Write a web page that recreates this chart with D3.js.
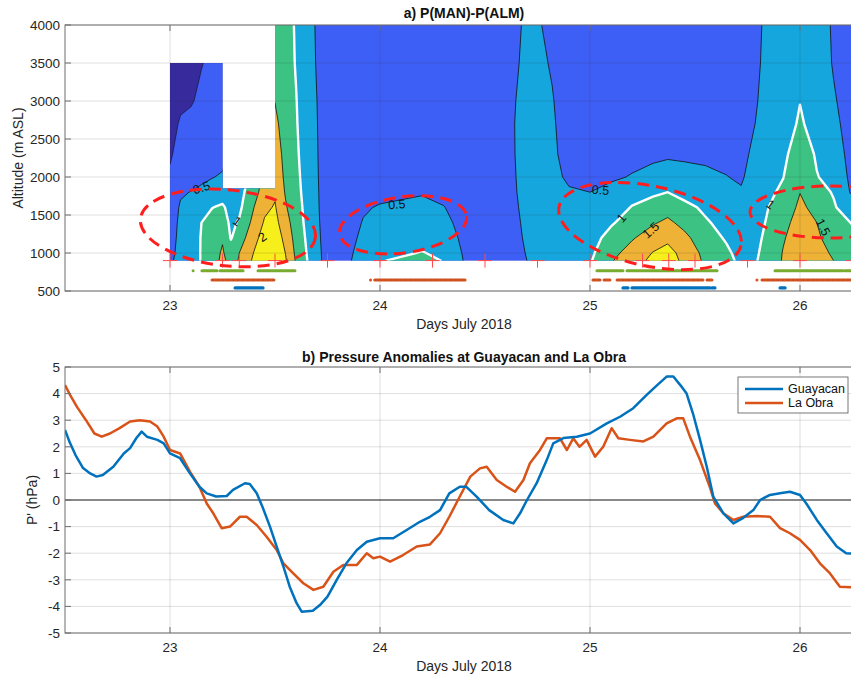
<!DOCTYPE html>
<html>
<head>
<meta charset="utf-8">
<script src="https://cdn.jsdelivr.net/npm/d3@7"></script>
<style>
body { margin: 0; background: #fff; }
svg { display: block; font-family: "Liberation Sans", Arial, Helvetica, sans-serif; }
</style>
</head>
<body>
<svg id="fig" width="851" height="675"></svg>
<script>
// ---------- panel a: pressure difference field ----------
var colTimes = [23.00, 23.05, 23.10, 23.15, 23.20, 23.25, 23.29, 23.33, 23.40, 23.45,
  23.50, 23.55, 23.60, 23.65, 23.70, 23.75, 23.85, 23.92, 24.00, 24.10,
  24.20, 24.30, 24.40, 24.50, 24.62, 24.70, 24.76, 24.82, 24.90, 25.00,
  25.10, 25.20, 25.30, 25.37, 25.45, 25.55, 25.65, 25.72, 25.78, 25.85,
  25.92, 26.00, 26.08, 26.16, 26.24, 26.32];
var altRows = [900, 1000, 1200, 1400, 1600, 1800, 2000, 2300, 2700, 3000, 3500, 4000];

// one profile per time column, values at altRows (hPa)
var fieldCols = [
  [0.45, 0.42, 0.38, 0.34, 0.30, 0.22, 0.06, -0.05, -0.10, -0.15, -0.20, -0.20],
  [0.60, 0.59, 0.58, 0.57, 0.54, 0.46, 0.30, 0.15, 0.03, -0.05, -0.10, -0.10],
  [0.85, 0.85, 0.83, 0.80, 0.70, 0.51, 0.35, 0.20, 0.06, -0.02, -0.08, -0.10],
  [1.02, 1.02, 1.02, 1.00, 0.85, 0.55, 0.45, 0.25, 0.10, 0.05, -0.01, -0.05],
  [1.30, 1.28, 1.20, 1.12, 0.99, 0.70, 0.48, 0.30, 0.18, 0.12, 0.05, 0.02],
  [1.60, 1.56, 1.45, 1.25, 1.06, 0.80, 0.55, 0.35, 0.25, 0.20, 0.15, 0.15],
  [1.35, 1.22, 0.97, 0.90, 0.86, 0.84, 0.70, 0.60, 0.60, 0.60, 0.60, 0.60],
  [1.53, 1.50, 1.25, 1.05, 0.90, 0.84, 0.80, 0.80, 0.80, 0.80, 0.80, 0.80],
  [2.10, 2.02, 1.85, 1.65, 1.50, 1.30, 1.15, 1.20, 1.30, 1.40, 1.50, 1.50],
  [2.40, 2.35, 2.20, 2.05, 1.90, 1.75, 1.65, 1.60, 1.60, 1.60, 1.60, 1.60],
  [2.50, 2.45, 2.30, 2.15, 2.04, 1.93, 1.85, 1.75, 1.60, 1.49, 1.35, 1.30],
  [2.05, 1.99, 1.85, 1.70, 1.55, 1.46, 1.40, 1.35, 1.30, 1.27, 1.22, 1.20],
  [1.45, 1.40, 1.32, 1.25, 1.20, 1.15, 1.12, 1.08, 1.04, 1.02, 0.97, 0.95],
  [1.03, 1.00, 0.95, 0.90, 0.87, 0.84, 0.81, 0.78, 0.75, 0.73, 0.70, 0.70],
  [0.66, 0.64, 0.60, 0.57, 0.55, 0.54, 0.53, 0.52, 0.51, 0.50, 0.47, 0.45],
  [0.30, 0.30, 0.30, 0.30, 0.30, 0.30, 0.30, 0.30, 0.30, 0.30, 0.30, 0.30],
  [0.47, 0.45, 0.40, 0.35, 0.30, 0.25, 0.20, 0.20, 0.20, 0.20, 0.20, 0.20],
  [0.62, 0.61, 0.57, 0.52, 0.46, 0.35, 0.25, 0.20, 0.20, 0.20, 0.20, 0.20],
  [0.98, 0.85, 0.72, 0.62, 0.53, 0.40, 0.30, 0.20, 0.20, 0.20, 0.20, 0.20],
  [1.05, 0.95, 0.80, 0.65, 0.56, 0.44, 0.30, 0.20, 0.20, 0.20, 0.20, 0.20],
  [1.08, 1.02, 0.85, 0.70, 0.60, 0.47, 0.30, 0.20, 0.20, 0.20, 0.20, 0.20],
  [0.99, 0.92, 0.75, 0.62, 0.52, 0.38, 0.28, 0.20, 0.20, 0.20, 0.20, 0.20],
  [0.48, 0.45, 0.40, 0.36, 0.33, 0.30, 0.30, 0.30, 0.30, 0.30, 0.30, 0.30],
  [0.30, 0.30, 0.30, 0.30, 0.30, 0.30, 0.30, 0.30, 0.30, 0.30, 0.30, 0.30],
  [0.42, 0.42, 0.42, 0.42, 0.42, 0.42, 0.42, 0.42, 0.42, 0.42, 0.42, 0.42],
  [0.50, 0.51, 0.53, 0.55, 0.58, 0.62, 0.65, 0.70, 0.72, 0.66, 0.57, 0.54],
  [0.70, 0.70, 0.70, 0.70, 0.68, 0.65, 0.63, 0.62, 0.62, 0.60, 0.56, 0.52],
  [0.72, 0.72, 0.71, 0.70, 0.67, 0.62, 0.58, 0.56, 0.54, 0.52, 0.47, 0.40],
  [0.75, 0.75, 0.74, 0.72, 0.65, 0.53, 0.45, 0.38, 0.35, 0.33, 0.30, 0.30],
  [0.95, 0.90, 0.82, 0.72, 0.62, 0.50, 0.42, 0.35, 0.30, 0.30, 0.30, 0.30],
  [1.45, 1.35, 1.15, 0.95, 0.80, 0.60, 0.45, 0.35, 0.30, 0.30, 0.30, 0.30],
  [1.85, 1.70, 1.45, 1.20, 1.02, 0.85, 0.52, 0.40, 0.32, 0.30, 0.30, 0.30],
  [2.08, 2.02, 1.75, 1.45, 1.20, 0.92, 0.62, 0.42, 0.34, 0.30, 0.30, 0.30],
  [2.20, 2.15, 1.90, 1.60, 1.30, 1.00, 0.70, 0.44, 0.36, 0.32, 0.30, 0.30],
  [1.90, 1.85, 1.62, 1.35, 1.12, 0.85, 0.66, 0.42, 0.35, 0.30, 0.30, 0.30],
  [1.40, 1.35, 1.20, 1.05, 0.92, 0.75, 0.58, 0.42, 0.33, 0.30, 0.30, 0.30],
  [1.15, 1.08, 0.95, 0.85, 0.75, 0.65, 0.51, 0.40, 0.32, 0.30, 0.30, 0.30],
  [0.88, 0.85, 0.80, 0.72, 0.62, 0.54, 0.45, 0.38, 0.33, 0.30, 0.30, 0.30],
  [0.95, 0.93, 0.88, 0.83, 0.78, 0.72, 0.66, 0.58, 0.48, 0.44, 0.40, 0.38],
  [1.15, 1.13, 1.10, 1.05, 1.00, 0.92, 0.85, 0.78, 0.70, 0.66, 0.62, 0.60],
  [1.55, 1.53, 1.45, 1.35, 1.20, 1.08, 0.99, 0.90, 0.82, 0.78, 0.72, 0.70],
  [1.90, 1.88, 1.80, 1.70, 1.60, 1.49, 1.38, 1.25, 1.05, 0.99, 0.88, 0.82],
  [1.65, 1.63, 1.57, 1.50, 1.35, 1.20, 1.02, 0.95, 0.85, 0.78, 0.72, 0.70],
  [1.50, 1.45, 1.30, 1.18, 1.06, 0.96, 0.85, 0.72, 0.60, 0.54, 0.47, 0.45],
  [1.30, 1.25, 1.12, 1.00, 0.70, 0.48, 0.42, 0.38, 0.35, 0.33, 0.30, 0.30],
  [1.10, 1.05, 0.95, 0.85, 0.62, 0.42, 0.35, 0.30, 0.30, 0.30, 0.30, 0.30]
];

var levels = [0, 0.5, 1, 1.5, 2];
var levelColors = ['#3e5ff6', '#16a6de', '#3cc383', '#eeb236', '#f6ef1c'];
var belowColor = '#372a9c';
var lineColors = ['#15153a', '#111', '#fff', '#111', '#111'];
var lineWidths = [0.7, 0.8, 2.4, 0.8, 0.8];

// where the profiler has data
var coverStart = [23.0, 23.25, 23.5];
var coverEnd = [23.25, 23.5, 26.4];
var coverTop = [3500, 1850, 4000];
var coverBottom = 900;

var contourLabels = [
  {t: 23.15, alt: 1860, text: '0.5', rot: -18},
  {t: 23.32, alt: 1420, text: '1', rot: 35},
  {t: 23.44, alt: 1210, text: '2', rot: -35},
  {t: 24.08, alt: 1640, text: '0.5', rot: -4},
  {t: 25.05, alt: 1830, text: '0.5', rot: 3},
  {t: 25.15, alt: 1460, text: '1', rot: -50},
  {t: 25.29, alt: 1300, text: '1.5', rot: -42},
  {t: 25.86, alt: 1640, text: '1', rot: 35},
  {t: 26.11, alt: 1340, text: '1.5', rot: 62}
];

// red dashed ellipses: centre, semi-axes (days, m), rotation (deg)
var ellT = [23.276, 24.11, 25.286, 26.143];
var ellAlt = [1330, 1370, 1355, 1540];
var ellA = [0.419, 0.305, 0.443, 0.381];
var ellB = [500, 368, 526, 342];
var ellRot = [6, -8, 12, 0];

// surface stations markers
var plusTimes = [23.0, 23.25, 23.33, 23.5, 23.75, 24.0, 24.25, 24.5, 24.75,
  25.0, 25.25, 25.375, 25.5, 25.75, 26.0, 26.25];
var plusAlt = 900;

// periods (start, end) in days
var greenStart = [23.11, 23.152, 23.238, 23.419, 25.033, 25.176, 25.881, 26.214];
var greenEnd =   [23.11, 23.224, 23.348, 23.595, 25.157, 25.605, 26.205, 26.35];
var orangeStart = [23.2, 23.955, 23.975, 25.014, 25.067, 25.129, 25.557, 25.795, 25.819];
var orangeEnd =   [23.495, 23.955, 24.405, 25.048, 25.095, 25.538, 25.581, 25.795, 26.35];
var blueStart = [23.31, 25.157, 25.2, 25.581, 25.905];
var blueEnd =   [23.443, 25.181, 25.571, 25.595, 25.929];
var stripAlts = [765, 645, 540];

// ---------- panel b: pressure anomalies ----------
var guayT = [22.5, 22.524, 22.55, 22.586, 22.62, 22.65, 22.68, 22.73, 22.78, 22.81,
  22.84, 22.865, 22.89, 22.94, 22.97, 23.0, 23.048, 23.095, 23.14, 23.175,
  23.22, 23.27, 23.3, 23.357, 23.38, 23.413, 23.44, 23.476, 23.508, 23.54,
  23.57, 23.603, 23.627, 23.68, 23.714, 23.75, 23.794, 23.84, 23.89, 23.937,
  24.0, 24.063, 24.127, 24.19, 24.238, 24.286, 24.33, 24.38, 24.41, 24.46,
  24.52, 24.587, 24.635, 24.667, 24.7, 24.746, 24.794, 24.825, 24.873, 24.937,
  25.0, 25.08, 25.143, 25.206, 25.27, 25.32, 25.365, 25.397, 25.43, 25.46,
  25.49, 25.524, 25.556, 25.587, 25.635, 25.683, 25.73, 25.778, 25.81, 25.857,
  25.905, 25.952, 26.0, 26.03, 26.08, 26.127, 26.175, 26.22, 26.3];
var guayP = [2.63, 2.14, 1.69, 1.2, 1.0, 0.88, 0.94, 1.25, 1.75, 1.95,
  2.33, 2.57, 2.38, 2.26, 2.13, 1.75, 1.57, 1.0, 0.5, 0.25,
  0.13, 0.15, 0.38, 0.63, 0.6, 0.25, -0.25, -1.0, -1.75, -2.5,
  -3.26, -3.88, -4.2, -4.16, -3.95, -3.63, -3.0, -2.38, -1.88, -1.57,
  -1.44, -1.44, -1.13, -0.82, -0.63, -0.38, 0.25, 0.5, 0.5, 0.13,
  -0.38, -0.75, -0.88, -0.5, 0.0, 0.63, 1.5, 2.13, 2.33, 2.38,
  2.5, 2.88, 3.13, 3.45, 3.95, 4.32, 4.64, 4.64, 4.32, 4.0,
  3.26, 2.26, 1.25, 0.13, -0.5, -0.88, -0.67, -0.38, 0.0, 0.19,
  0.25, 0.31, 0.19, -0.13, -0.75, -1.25, -1.75, -2.0, -2.05];
var obraT = [22.5, 22.524, 22.557, 22.6, 22.64, 22.675, 22.714, 22.76, 22.81, 22.857,
  22.905, 22.94, 22.97, 23.0, 23.048, 23.095, 23.14, 23.175, 23.206, 23.246,
  23.286, 23.333, 23.365, 23.413, 23.46, 23.508, 23.54, 23.587, 23.635, 23.683,
  23.73, 23.778, 23.825, 23.89, 23.937, 23.968, 24.0, 24.048, 24.11, 24.175,
  24.238, 24.286, 24.33, 24.38, 24.43, 24.476, 24.508, 24.556, 24.603, 24.643,
  24.683, 24.714, 24.762, 24.794, 24.857, 24.89, 24.92, 24.95, 24.984, 25.024,
  25.063, 25.103, 25.135, 25.19, 25.254, 25.302, 25.365, 25.413, 25.444, 25.476,
  25.524, 25.57, 25.595, 25.635, 25.683, 25.73, 25.794, 25.857, 25.905, 25.952,
  26.0, 26.048, 26.095, 26.143, 26.19, 26.3];
var obraP = [4.32, 3.95, 3.5, 3.0, 2.5, 2.38, 2.5, 2.7, 2.95, 3.0,
  2.95, 2.76, 2.38, 1.88, 1.75, 1.07, 0.5, -0.13, -0.5, -1.06,
  -1.0, -0.63, -0.63, -0.94, -1.38, -1.88, -2.38, -2.76, -3.13, -3.38,
  -3.26, -2.7, -2.44, -2.44, -2.0, -2.19, -2.13, -2.32, -2.07, -1.75,
  -1.67, -1.25, -0.63, 0.13, 0.88, 1.19, 1.25, 0.75, 0.5, 0.31,
  0.75, 1.38, 1.88, 2.32, 2.32, 1.88, 2.32, 2.0, 2.26, 1.63,
  2.0, 2.7, 2.32, 2.26, 2.2, 2.38, 2.88, 3.07, 3.07, 2.38,
  1.5, 0.5, -0.13, -0.5, -0.75, -0.63, -0.6, -0.63, -1.06, -1.25,
  -1.5, -1.88, -2.38, -2.76, -3.26, -3.3];
var seriesNames = ['Guayacan', 'La Obra'];
var seriesColors = ['#0072bd', '#d95319'];

var xTicks = [23, 24, 25, 26];
var altTicks = [500, 1000, 1500, 2000, 2500, 3000, 3500, 4000];
var pTicks = [-5, -4, -3, -2, -1, 0, 1, 2, 3, 4, 5];

// ---------- layout ----------
var svg = d3.select('#fig');
var left = 65, right = 863;
var topA = 25, botA = 291, topB = 367, botB = 633;

var x = d3.scaleLinear().domain([22.5, 26.3]).range([left, right]);
var yAlt = d3.scaleLinear().domain([500, 4000]).range([botA, topA]);
var yP = d3.scaleLinear().domain([-5, 5]).range([botB, topB]);

var defs = svg.append('defs');
defs.append('clipPath').attr('id', 'plotA')
  .append('rect').attr('x', left).attr('y', topA).attr('width', right - left).attr('height', botA - topA);
defs.append('clipPath').attr('id', 'plotB')
  .append('rect').attr('x', left).attr('y', topB).attr('width', right - left).attr('height', botB - topB);
var cover = defs.append('clipPath').attr('id', 'cover');
coverStart.forEach(function(s, i) {
  cover.append('rect')
    .attr('x', x(s)).attr('y', yAlt(coverTop[i]))
    .attr('width', x(coverEnd[i]) - x(s))
    .attr('height', yAlt(coverBottom) - yAlt(coverTop[i]));
});

// padded grid for d3.contours (edge values repeated so lines do not run along the border)
var padT = [colTimes[0] - 0.1].concat(colTimes, [colTimes[colTimes.length - 1] + 0.1]);
var padA = [altRows[0] - 200].concat(altRows, [altRows[altRows.length - 1] + 200]);
var nx = padT.length, ny = padA.length;
var grid = new Array(nx * ny);
for (var j = 0; j < ny; j++) {
  for (var i = 0; i < nx; i++) {
    var ci = Math.min(Math.max(i - 1, 0), colTimes.length - 1);
    var rj = Math.min(Math.max(j - 1, 0), altRows.length - 1);
    grid[j * nx + i] = fieldCols[ci][rj];
  }
}

function along(arr, c) {
  var k = c - 0.5;
  if (k <= 0) return arr[0];
  if (k >= arr.length - 1) return arr[arr.length - 1];
  var i0 = Math.floor(k), f = k - i0;
  return arr[i0] + f * (arr[i0 + 1] - arr[i0]);
}

var proj = d3.geoTransform({
  point: function(px, py) {
    this.stream.point(x(along(padT, px)), yAlt(along(padA, py)));
  }
});
var gpath = d3.geoPath(proj);
var contours = d3.contours().size([nx, ny]).smooth(true);

// ---- panel a ----
var gA = svg.append('g');
var field = gA.append('g').attr('clip-path', 'url(#cover)');
field.append('rect')
  .attr('x', x(23)).attr('y', yAlt(4000))
  .attr('width', right - x(23)).attr('height', yAlt(900) - yAlt(4000))
  .attr('fill', belowColor);

levels.forEach(function(lv, k) {
  field.append('path')
    .attr('d', gpath(contours.contour(grid, lv)))
    .attr('fill', levelColors[k]);
});
levels.forEach(function(lv, k) {
  field.append('path')
    .attr('d', gpath(contours.contour(grid, lv)))
    .attr('fill', 'none')
    .attr('stroke', lineColors[k])
    .attr('stroke-width', lineWidths[k])
    .attr('stroke-linejoin', 'round');
});

// grid
function drawGrid(g, yScale, yt, y0, y1) {
  g.selectAll('line.gx').data(xTicks).enter().append('line')
    .attr('x1', function(d) { return x(d); }).attr('x2', function(d) { return x(d); })
    .attr('y1', y0).attr('y2', y1)
    .attr('stroke', '#262626').attr('stroke-opacity', 0.15).attr('stroke-width', 1);
  g.selectAll('line.gy').data(yt).enter().append('line')
    .attr('x1', left).attr('x2', right)
    .attr('y1', function(d) { return yScale(d); }).attr('y2', function(d) { return yScale(d); })
    .attr('stroke', '#262626').attr('stroke-opacity', 0.15).attr('stroke-width', 1);
}
drawGrid(gA.append('g'), yAlt, altTicks, topA, botA);

// contour labels
gA.selectAll('text.cl').data(contourLabels).enter().append('text')
  .attr('transform', function(d) { return 'translate(' + x(d.t) + ',' + yAlt(d.alt) + ') rotate(' + d.rot + ')'; })
  .attr('text-anchor', 'middle').attr('dy', '0.35em')
  .attr('font-size', 12.5).attr('fill', '#111')
  .text(function(d) { return d.text; });

// periods
var stripG = gA.append('g').attr('clip-path', 'url(#plotA)');
function strip(starts, ends, alt, color, w) {
  stripG.selectAll(null).data(starts).enter().append('line')
    .attr('x1', function(d) { return x(d); })
    .attr('x2', function(d, i) { return x(ends[i]); })
    .attr('y1', yAlt(alt)).attr('y2', yAlt(alt))
    .attr('stroke', color).attr('stroke-width', w).attr('stroke-linecap', 'round');
}
strip(greenStart, greenEnd, stripAlts[0], '#77ac30', 3);
strip(orangeStart, orangeEnd, stripAlts[1], '#d95319', 3);
strip(blueStart, blueEnd, stripAlts[2], '#0072bd', 3.2);
stripG.selectAll(null).data(orangeStart).enter().append('line')
  .attr('x1', function(d) { return x(d); })
  .attr('x2', function(d, i) { return x(orangeEnd[i]); })
  .attr('y1', yAlt(stripAlts[1])).attr('y2', yAlt(stripAlts[1]))
  .attr('stroke', '#7d4d70').attr('stroke-width', 1).attr('stroke-dasharray', '2,3')
  .attr('stroke-opacity', 0.6);

// plus markers
plusTimes.forEach(function(t) {
  var cx = x(t), cy = yAlt(plusAlt);
  stripG.append('line').attr('x1', cx - 7).attr('x2', cx + 7).attr('y1', cy).attr('y2', cy)
    .attr('stroke', '#ff4b4b').attr('stroke-width', 1);
  stripG.append('line').attr('x1', cx).attr('x2', cx).attr('y1', cy - 7).attr('y2', cy + 7)
    .attr('stroke', '#ff4b4b').attr('stroke-width', 1);
});

// ellipses
ellT.forEach(function(t, i) {
  var cx = x(t), cy = yAlt(ellAlt[i]);
  var rx = x(t + ellA[i]) - cx, ry = cy - yAlt(ellAlt[i] + ellB[i]);
  stripG.append('ellipse')
    .attr('cx', cx).attr('cy', cy).attr('rx', rx).attr('ry', ry)
    .attr('transform', 'rotate(' + ellRot[i] + ',' + cx + ',' + cy + ')')
    .attr('fill', 'none').attr('stroke', '#ff1e1e').attr('stroke-width', 3)
    .attr('stroke-dasharray', '12,7');
});

// ---- axes helper ----
function frame(y0, y1, yScale, yt) {
  var g = svg.append('g');
  g.append('rect').attr('x', left).attr('y', y0).attr('width', right - left).attr('height', y1 - y0)
    .attr('fill', 'none').attr('stroke', '#6e6e6e').attr('stroke-width', 1);
  xTicks.forEach(function(t) {
    g.append('line').attr('x1', x(t)).attr('x2', x(t)).attr('y1', y1).attr('y2', y1 - 6)
      .attr('stroke', '#6e6e6e');
    g.append('line').attr('x1', x(t)).attr('x2', x(t)).attr('y1', y0).attr('y2', y0 + 6)
      .attr('stroke', '#6e6e6e');
    g.append('text').attr('x', x(t)).attr('y', y1 + 19).attr('text-anchor', 'middle')
      .attr('font-size', 13.5).attr('fill', '#262626').text(t);
  });
  yt.forEach(function(v) {
    g.append('line').attr('x1', left).attr('x2', left + 6).attr('y1', yScale(v)).attr('y2', yScale(v))
      .attr('stroke', '#6e6e6e');
    g.append('text').attr('x', left - 5).attr('y', yScale(v)).attr('dy', '0.35em')
      .attr('text-anchor', 'end').attr('font-size', 13.5).attr('fill', '#262626').text(v);
  });
  g.append('text').attr('x', (left + right) / 2).attr('y', y1 + 38).attr('text-anchor', 'middle')
    .attr('font-size', 14).attr('fill', '#262626').text('Days July 2018');
  return g;
}

var axA = frame(topA, botA, yAlt, altTicks);
axA.append('text').attr('transform', 'translate(23,' + (topA + botA) / 2 + ') rotate(-90)')
  .attr('text-anchor', 'middle').attr('font-size', 14).attr('fill', '#262626').text('Altitude (m ASL)');
svg.append('text').attr('x', (left + right) / 2).attr('y', 18).attr('text-anchor', 'middle')
  .attr('font-size', 14).attr('font-weight', 'bold').attr('fill', '#111').text('a) P(MAN)-P(ALM)');

// ---- panel b ----
var gB = svg.append('g');
drawGrid(gB, yP, pTicks, topB, botB);
gB.append('line').attr('x1', left).attr('x2', right).attr('y1', yP(0)).attr('y2', yP(0))
  .attr('stroke', '#222').attr('stroke-width', 1);

var line = d3.line().x(function(d) { return x(d[0]); }).y(function(d) { return yP(d[1]); });
var linesG = gB.append('g').attr('clip-path', 'url(#plotB)');
linesG.append('path').datum(d3.zip(obraT, obraP)).attr('d', line)
  .attr('fill', 'none').attr('stroke', seriesColors[1]).attr('stroke-width', 2.5).attr('stroke-linejoin', 'round');
linesG.append('path').datum(d3.zip(guayT, guayP)).attr('d', line)
  .attr('fill', 'none').attr('stroke', seriesColors[0]).attr('stroke-width', 2.5).attr('stroke-linejoin', 'round');

var axB = frame(topB, botB, yP, pTicks);
axB.append('text').attr('transform', 'translate(37,' + (topB + botB) / 2 + ') rotate(-90)')
  .attr('text-anchor', 'middle').attr('font-size', 14).attr('fill', '#262626').text("P' (hPa)");
svg.append('text').attr('x', (left + right) / 2).attr('y', 362).attr('text-anchor', 'middle')
  .attr('font-size', 14).attr('font-weight', 'bold').attr('fill', '#111')
  .text('b) Pressure Anomalies at Guayacan and La Obra');

// legend
var leg = svg.append('g').attr('transform', 'translate(738,377)');
leg.append('rect').attr('width', 110).attr('height', 36).attr('fill', '#fff')
  .attr('stroke', '#555').attr('stroke-width', 0.8);
seriesNames.forEach(function(n, i) {
  var yy = 12 + i * 14;
  leg.append('line').attr('x1', 7).attr('x2', 45).attr('y1', yy).attr('y2', yy)
    .attr('stroke', seriesColors[i]).attr('stroke-width', 2.5);
  leg.append('text').attr('x', 50).attr('y', yy).attr('dy', '0.35em')
    .attr('font-size', 12.5).attr('fill', '#111').text(n);
});
</script>
</body>
</html>
